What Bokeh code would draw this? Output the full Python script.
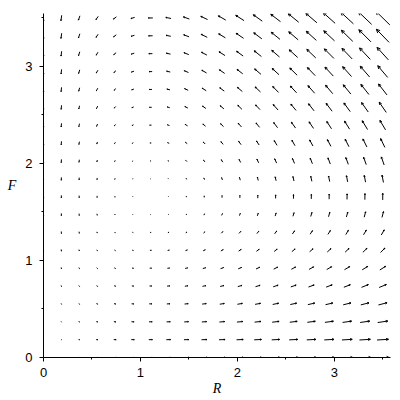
import math
from bokeh.plotting import figure
from bokeh.models import Range1d, FixedTicker
from bokeh.embed import file_html
from bokeh.resources import INLINE

# Grid of sample points (rabbits R, foxes F)
R_GRID = [0.0, 0.184, 0.368, 0.553, 0.737, 0.921, 1.105, 1.289, 1.474, 1.658,
          1.842, 2.026, 2.211, 2.395, 2.579, 2.763, 2.947, 3.132, 3.316, 3.5]
F_GRID = [0.0, 0.184, 0.368, 0.553, 0.737, 0.921, 1.105, 1.289, 1.474, 1.658,
          1.842, 2.026, 2.211, 2.395, 2.579, 2.763, 2.947, 3.132, 3.316, 3.5]

# Predator-prey system: dR/dt = A*R - B*R*F ; dF/dt = -C*F + D*R*F
A = 2.0
B = 1.2
C = 1.0
D = 0.9

X_TICKS = [0, 1, 2, 3]
Y_TICKS = [0, 1, 2, 3]
MINOR_TICKS = [0.5, 1.5, 2.5, 3.5]

p = figure(width=392, height=400, output_backend="svg", toolbar_location=None,
           x_range=Range1d(0, 3.58), y_range=Range1d(0, 3.546),
           min_border_left=43, min_border_right=2, min_border_top=13, min_border_bottom=43)
p.outline_line_color = None
p.xgrid.visible = False
p.ygrid.visible = False
p.background_fill_color = "white"
p.border_fill_color = "white"

vecs = []
for r in R_GRID:
    for f in F_GRID:
        u = A * r - B * r * f
        v = -C * f + D * r * f
        vecs.append((r, f, u, v))
mmax = max(math.hypot(u, v) for _, _, u, v in vecs)
k = 0.205 / mmax

sx0, sy0, sx1, sy1 = [], [], [], []
hx0, hy0, hx1, hy1 = [], [], [], []
for r, f, u, v in vecs:
    du, dv = k * u, k * v
    x0, y0 = r - du / 2, f - dv / 2
    x1, y1 = r + du / 2, f + dv / 2
    sx0.append(x0); sy0.append(y0); sx1.append(x1); sy1.append(y1)
    L = math.hypot(du, dv)
    if L > 0:
        ang = math.atan2(dv, du)
        h = 0.22 * L
        for s in (1, -1):
            a2 = ang + math.pi - s * math.radians(25)
            hx0.append(x1); hy0.append(y1)
            hx1.append(x1 + h * math.cos(a2)); hy1.append(y1 + h * math.sin(a2))

p.segment(x0=sx0, y0=sy0, x1=sx1, y1=sy1, line_color="black", line_width=1)
p.segment(x0=hx0, y0=hy0, x1=hx1, y1=hy1, line_color="black", line_width=1)

for ax, ticks in ((p.xaxis, X_TICKS), (p.yaxis, Y_TICKS)):
    ax.ticker = FixedTicker(ticks=ticks, minor_ticks=MINOR_TICKS)
    ax.axis_line_color = "black"
    ax.axis_line_width = 1
    ax.major_tick_in = 0
    ax.major_tick_out = 4
    ax.minor_tick_in = 0
    ax.minor_tick_out = 2
    ax.major_tick_line_color = "black"
    ax.minor_tick_line_color = "black"
    ax.major_label_text_font = "Liberation Sans"
    ax.major_label_text_font_size = "13px"
    ax.major_label_text_color = "black"
    ax.axis_label_text_font = "Liberation Serif"
    ax.axis_label_text_font_style = "italic"
    ax.axis_label_text_font_size = "14px"
    ax.axis_label_text_color = "black"
p.xaxis.major_label_standoff = 6
p.yaxis.major_label_standoff = 7
p.xaxis.axis_label = "R"
p.xaxis.axis_label_standoff = 1
p.yaxis.axis_label = "F"
p.yaxis.axis_label_standoff = 6
try:
    p.yaxis.axis_label_orientation = "horizontal"
except Exception:
    pass

open("out.html", "w").write(file_html(p, INLINE))
